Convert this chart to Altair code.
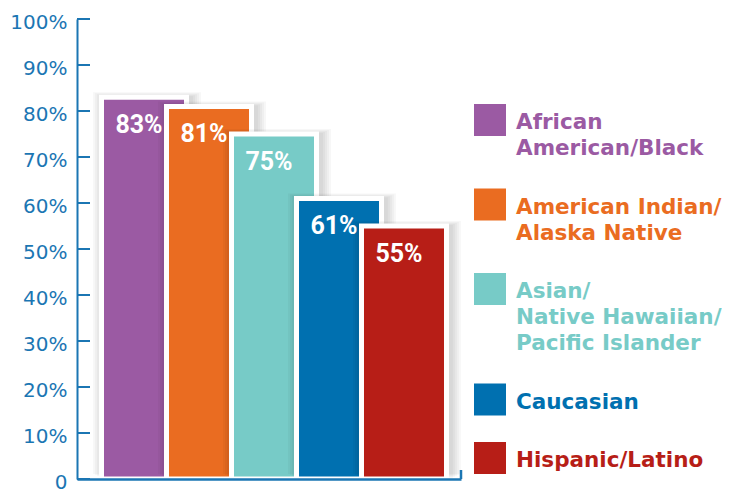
import altair as alt
import pandas as pd

# ---- data ----
groups = ["African American/Black", "American Indian/Alaska Native",
          "Asian/Native Hawaiian/Pacific Islander", "Caucasian", "Hispanic/Latino"]
values = [83, 81, 75, 61, 55]
colors = ["#9b5aa3", "#ea6c21", "#77cbc7", "#0070b0", "#b71e17"]
legend_lines = [["African", "American/Black"],
                ["American Indian/", "Alaska Native"],
                ["Asian/", "Native Hawaiian/", "Pacific Islander"],
                ["Caucasian"],
                ["Hispanic/Latino"]]
y_ticks = [0, 10, 20, 30, 40, 50, 60, 70, 80, 90, 100]

# ---- style ----
AX = "#1b76b3"
W, H = 384, 460
BAR_W = 85
LW, LH = 250, 460

df = pd.DataFrame({"group": groups, "value": values})
df["label"] = [f"{v}%" for v in values]

color_enc = alt.Color("group:N", scale=alt.Scale(domain=groups, range=colors), legend=None)
x_enc = alt.X("group:N", sort=groups,
              scale=alt.Scale(domain=groups, paddingInner=0, paddingOuter=0.454),
              axis=alt.Axis(title=None, labels=False, ticks=False, domainColor=AX,
                            domainWidth=2.5, zindex=1))
y_enc = alt.Y("value:Q", scale=alt.Scale(domain=[0, 100], nice=False),
              axis=alt.Axis(values=y_ticks, title=None, grid=False, ticks=False,
                            labelExpr="datum.value == 0 ? '0' : datum.value + '%'",
                            labelFont="DejaVu Sans", labelFontSize=20, labelColor=AX,
                            labelPadding=10, labelOffset=3, domainColor=AX,
                            domainWidth=2, zindex=1))

layers = []
for g in groups:
    base = alt.Chart(df).transform_filter(alt.datum.group == g)
    for k in [2, 4, 6, 8, 10]:
        layers.append(base.mark_bar(width=BAR_W + 3 + 2 * k, color="#000000", opacity=0.03,
                                    xOffset=8, yOffset=-k / 2)
                      .encode(x=x_enc, y=y_enc))
    layers.append(base.mark_bar(width=BAR_W, stroke="white", strokeWidth=5, xOffset=5)
                  .encode(x=x_enc, y=y_enc, color=color_enc))

labels = alt.Chart(df).mark_text(dy=28, xOffset=0, baseline="middle", align="center",
                                 color="white", font="Roboto",
                                 fontSize=25, fontWeight="bold").encode(
    x=x_enc, y=y_enc, text="label:N")

tick_df = pd.DataFrame({"value": y_ticks})
ticks = alt.Chart(tick_df).mark_rule(color=AX, strokeWidth=2).encode(
    y=y_enc, x=alt.value(0), x2=alt.value(13))

end_tick = alt.Chart(pd.DataFrame({"value": [0]})).mark_rule(color=AX, strokeWidth=2.5).encode(
    y=y_enc, y2=alt.value(H - 9), x=alt.value(W))

left = alt.layer(*layers, labels, ticks, end_tick).properties(width=W, height=H)

# ---- legend panel ----
SQ = 32
LINE_H = 26
GAP = 32.5
SQ_LEFT = 11
TOP0 = 85
sq_rows, txt_rows = [], []
top = TOP0
for g, lines in zip(groups, legend_lines):
    sq_rows.append({"group": g, "x": SQ_LEFT, "x2": SQ_LEFT + SQ, "y": top, "y2": top + SQ})
    for j, t in enumerate(lines):
        txt_rows.append({"group": g, "x": SQ_LEFT + 42, "y": top + 25 + j * LINE_H, "text": t})
    top += len(lines) * LINE_H + GAP

lx = alt.Scale(domain=[0, LW], nice=False, zero=False)
ly = alt.Scale(domain=[0, LH], nice=False, zero=False, reverse=True)

squares = alt.Chart(pd.DataFrame(sq_rows)).mark_rect().encode(
    x=alt.X("x:Q", scale=lx, axis=None), x2="x2:Q",
    y=alt.Y("y:Q", scale=ly, axis=None), y2="y2:Q",
    color=color_enc)
texts = alt.Chart(pd.DataFrame(txt_rows)).mark_text(
    align="left", baseline="alphabetic", font="DejaVu Sans", fontSize=21.5,
    fontWeight="bold").encode(
    x=alt.X("x:Q", scale=lx, axis=None),
    y=alt.Y("y:Q", scale=ly, axis=None),
    text="text:N", color=color_enc)

legend = alt.layer(squares, texts).properties(width=LW, height=LH)

chart = alt.hconcat(left, legend, spacing=0).properties(
    padding={"left": 1, "top": 4, "right": 0, "bottom": 0}
).configure_view(stroke=None)

chart.save("out.html", embed_options={"renderer": "svg", "actions": False})
